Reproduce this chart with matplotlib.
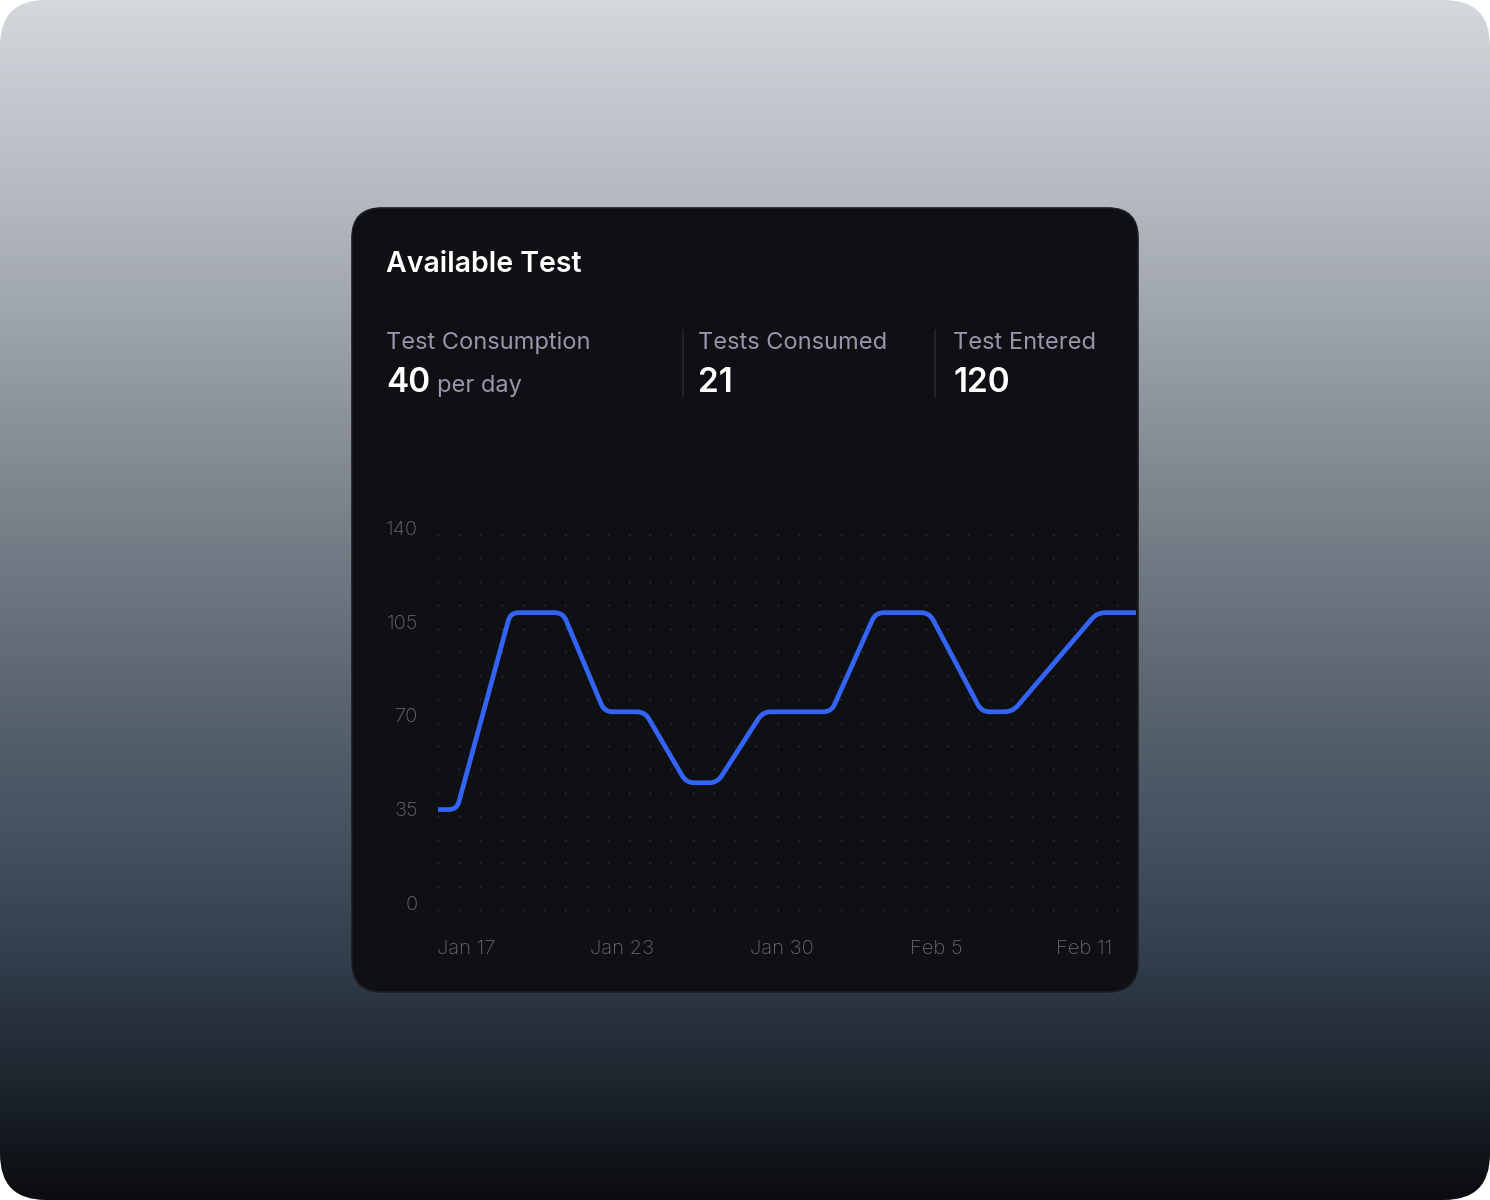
import numpy as np
import matplotlib
matplotlib.use("Agg")
import matplotlib.pyplot as plt
from matplotlib.patches import FancyBboxPatch, PathPatch
from matplotlib.path import Path
from matplotlib.colors import LinearSegmentedColormap
import matplotlib.transforms as mtransforms

plt.rcParams['font.family'] = ['Inter', 'DejaVu Sans']

# data (x = days after Jan 17)
days = [0, 0.7, 2.7, 4.65, 6.2, 7.7, 9.25, 10.4, 12.1, 14.65, 16.3, 18.3, 20.25, 21.4, 24.55, 26]
available = [37.5, 37.5, 111, 111, 74, 74, 47.5, 47.5, 74, 74, 111, 111, 74, 74, 111, 111]
y_ticks = [0, 35, 70, 105, 140]
x_tick_pos = [1.05, 6.85, 12.8, 18.55, 24.05]
x_tick_labels = ['Jan 17', 'Jan 23', 'Jan 30', 'Feb 5', 'Feb 11']
stat_titles = ['Test Consumption', 'Tests Consumed', 'Test Entered']
stat_values = ['40', '21', '120']
stat_units = ['per day', '', '']

W, H = 1490, 1200
fig = plt.figure(figsize=(W / 100, H / 100), dpi=100, facecolor='white')

def px(x, y):
    return x / W, 1 - y / H

# background with gradient + rounded corners
bg = fig.add_axes([0, 0, 1, 1])
bg.set_xlim(0, W)
bg.set_ylim(H, 0)
bg.axis('off')
stops = [(0, '#d4d7dc'), (0.17, '#b3b8bf'), (0.42, '#7b838c'), (0.58, '#5a6571'),
         (0.78, '#354351'), (0.88, '#222b35'), (1.0, '#0b0d10')]
cmap = LinearSegmentedColormap.from_list('bg', stops)
grad = np.linspace(0, 1, 600).reshape(-1, 1)
im = bg.imshow(grad, cmap=cmap, aspect='auto', extent=[0, W, H, 0], zorder=0)
outer = FancyBboxPatch((0, 0), W, H, boxstyle='round,pad=0,rounding_size=46',
                       transform=bg.transData, facecolor='none', edgecolor='none')
bg.add_patch(outer)
im.set_clip_path(outer)

# card
card = FancyBboxPatch((352, 208), 786, 784, boxstyle='round,pad=0,rounding_size=30',
                      facecolor='#0f1014', edgecolor='#1d1e23', lw=1.2, zorder=2)
bg.add_patch(card)

# header texts
fig.text(*px(386, 272), 'Available Test', color='white', fontsize=20.5,
         fontweight='semibold', va='baseline', ha='left')

stat_x = [386, 698, 953]
renderer = fig.canvas.get_renderer()
for sx, t, v, u in zip(stat_x, stat_titles, stat_values, stat_units):
    fig.text(*px(sx, 349), t, color='#9896ab', fontsize=17, va='baseline', ha='left')
    num = fig.text(*px(sx, 392), v, color='white', fontsize=24, fontweight='semibold',
                   va='baseline', ha='left')
    if u:
        bb = num.get_window_extent(renderer)
        fig.text((bb.x1 + 7) / W, 1 - 392 / H, u, color='#9896ab', fontsize=17,
                 va='baseline', ha='left')
for dx in [683, 935]:
    bg.plot([dx, dx], [330, 397], color='#26272d', lw=1.2, zorder=3)

# chart
ax = fig.add_axes([438 / W, 1 - 910 / H, 698 / W, 375 / H])
ax.set_xlim(0, 26)
ax.set_ylim(0, 140)
ax.patch.set_alpha(0)
for s in ax.spines.values():
    s.set_visible(False)
ax.set_xticks([])
ax.set_yticks([])

# dotted grid
gx = np.linspace(0, 679 / 698, 33)
gy = np.arange(0, 140.01, 8.75)
GX, GY = np.meshgrid(gx, gy)
trans = mtransforms.blended_transform_factory(ax.transAxes, ax.transData)
ax.scatter(GX.ravel(), GY.ravel(), s=2.2, color='#2a2c33', transform=trans,
           linewidths=0, clip_on=False, zorder=1)

# y labels
for v in y_ticks:
    ax.annotate(str(v), xy=(0, v), xycoords=('axes fraction', 'data'),
                xytext=(-14.5, 3.6), textcoords='offset points', ha='right', va='center',
                color='#676973', fontsize=14.5, fontweight='light')
# x labels
for p, lab in zip(x_tick_pos, x_tick_labels):
    ax.annotate(lab, xy=(p, 0), xycoords=('data', 'axes fraction'),
                xytext=(0, -27.8), textcoords='offset points', ha='center', va='center',
                color='#676973', fontsize=14.5, fontweight='light')

def rounded_path(ax, xs, ys, r=8):
    pts = ax.transData.transform(np.column_stack([xs, ys]))
    verts = [pts[0]]
    codes = [Path.MOVETO]
    for i in range(1, len(pts) - 1):
        p0, p1, p2 = pts[i - 1], pts[i], pts[i + 1]
        d1 = p1 - p0
        d2 = p2 - p1
        l1 = np.hypot(*d1)
        l2 = np.hypot(*d2)
        a = min(r, l1 / 2)
        b = min(r, l2 / 2)
        verts += [p1 - d1 / l1 * a, p1, p1 + d2 / l2 * b]
        codes += [Path.LINETO, Path.CURVE3, Path.CURVE3]
    verts.append(pts[-1])
    codes.append(Path.LINETO)
    verts = ax.transData.inverted().transform(np.array(verts))
    return Path(verts, codes)

line = PathPatch(rounded_path(ax, days, available), facecolor='none',
                 edgecolor='#3364f6', lw=3.4, capstyle='butt', joinstyle='round',
                 clip_on=False, zorder=3)
ax.add_patch(line)

fig.savefig('out.png', dpi=100, facecolor='white')
